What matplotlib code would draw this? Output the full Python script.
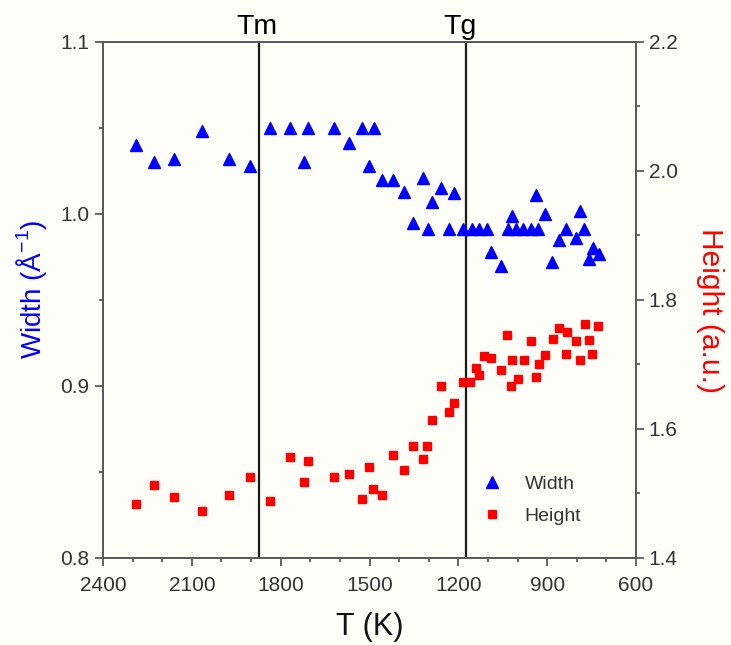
import matplotlib
matplotlib.use("Agg")
import matplotlib.pyplot as plt
from matplotlib.ticker import MultipleLocator

# ---- data ----
width_T = [2290, 2227, 2159, 2067, 1976, 1903, 1836, 1770, 1708, 1720, 1621, 1568,
           1525, 1485, 1501, 1458, 1421, 1385, 1352, 1318, 1304, 1288, 1259, 1231,
           1215, 1183, 1155, 1129, 1104, 1090, 1056, 1031, 1018, 1005, 981, 956,
           930, 939, 907, 883, 860, 836, 804, 789, 775, 759, 744, 725]
width_W = [1.040, 1.030, 1.032, 1.048, 1.032, 1.028, 1.050, 1.050, 1.050, 1.030, 1.050, 1.041,
           1.050, 1.050, 1.028, 1.020, 1.020, 1.013, 0.995, 1.021, 0.991, 1.007, 1.015, 0.991,
           1.012, 0.991, 0.991, 0.991, 0.991, 0.978, 0.970, 0.991, 0.999, 0.991, 0.991, 0.991,
           0.991, 1.011, 1.000, 0.972, 0.985, 0.991, 0.986, 1.002, 0.991, 0.974, 0.980, 0.977]

height_T = [2290, 2227, 2159, 2067, 1976, 1903, 1836, 1770, 1708, 1720, 1621, 1568,
            1501, 1525, 1487, 1458, 1422, 1385, 1352, 1305, 1318, 1288, 1259, 1232,
            1215, 1183, 1160, 1140, 1129, 1112, 1090, 1056, 1036, 1018, 1023, 999,
            978, 956, 939, 928, 907, 881, 860, 837, 832, 804, 789, 772, 759, 748, 727]
height_H = [1.484, 1.513, 1.495, 1.473, 1.497, 1.526, 1.488, 1.557, 1.550, 1.518, 1.526, 1.530,
            1.541, 1.492, 1.507, 1.498, 1.559, 1.537, 1.573, 1.573, 1.553, 1.614, 1.666, 1.627,
            1.641, 1.673, 1.673, 1.694, 1.684, 1.713, 1.710, 1.691, 1.745, 1.707, 1.667, 1.677,
            1.707, 1.736, 1.680, 1.700, 1.714, 1.740, 1.757, 1.716, 1.750, 1.736, 1.707, 1.763,
            1.738, 1.716, 1.759]

T_marks = [1873, 1174]
T_mark_labels = ["Tm", "Tg"]

x_ticks = [2400, 2100, 1800, 1500, 1200, 900, 600]
left_ticks = [0.8, 0.9, 1.0, 1.1]
right_ticks = [1.4, 1.6, 1.8, 2.0, 2.2]

# ---- style ----
plt.rcParams['font.family'] = ['Liberation Sans', 'DejaVu Sans']
plt.rcParams['mathtext.fontset'] = 'custom'
plt.rcParams['mathtext.rm'] = 'Liberation Sans'
spine_c = '#5a5a5a'
text_c = '#333333'
bg = '#fefef8'

fig = plt.figure(figsize=(7.31, 6.45), dpi=100, facecolor=bg)
ax = fig.add_axes([0.1409, 0.1349, 0.7292, 0.8])
ax.set_facecolor(bg)
ax2 = ax.twinx()

ax.set_xlim(2400, 600)
ax.set_ylim(0.8, 1.1)
ax2.set_ylim(1.4, 2.2)

for a in (ax, ax2):
    for s in a.spines.values():
        s.set_color(spine_c)
        s.set_linewidth(1.3)

ax.set_xticks(x_ticks)
ax.xaxis.set_minor_locator(MultipleLocator(100))
ax.set_yticks(left_ticks)
ax.set_yticklabels([f"{v:.1f}" for v in left_ticks])
ax.yaxis.set_minor_locator(MultipleLocator(0.05))
ax2.set_yticks(right_ticks)
ax2.set_yticklabels([f"{v:.1f}" for v in right_ticks])
ax2.yaxis.set_minor_locator(MultipleLocator(0.1))

ax.tick_params(axis='x', which='major', direction='out', length=6, width=1.3, pad=7,
               color=spine_c, labelcolor=text_c, labelsize=15)
ax.tick_params(axis='y', which='major', direction='out', length=6, width=1.3, pad=4,
               color=spine_c, labelcolor=text_c, labelsize=15)
ax.tick_params(axis='both', which='minor', direction='out', length=3, width=1.3,
               color=spine_c)
ax2.tick_params(axis='y', which='major', direction='out', length=6, width=1.3, pad=3,
                color=spine_c, labelcolor=text_c, labelsize=15)
ax2.tick_params(axis='y', which='minor', direction='out', length=3, width=1.3,
                color=spine_c)

offsets = [-1.5, -4.5]
for t, lab, dx in zip(T_marks, T_mark_labels, offsets):
    ax.axvline(t, color='#1a1a1a', lw=1.6, zorder=1)
    ax.annotate(lab, xy=(t, 1.1), xytext=(dx, 5.5), textcoords='offset points',
                ha='center', va='baseline', fontsize=20.5, color='black',
                annotation_clip=False)

hw, = ax.plot(width_T, width_W, linestyle='none', marker='^', ms=8,
              color='#0000ff', mec='#0000ff', label='Width', zorder=3)
hh, = ax2.plot(height_T, height_H, linestyle='none', marker='s', ms=6,
               color='#ff0000', mec='#ff0000', label='Height', zorder=3)

ax.set_xlabel("T (K)", fontsize=22, color='#111111')
ax.xaxis.set_label_coords(0.5, -0.105)
ax.set_ylabel("Width (Å$^{\\mathregular{-1}}$)", fontsize=20, color='#0000ff')
ax.yaxis.set_label_coords(-0.102, 0.52)
ax2.set_ylabel("Height (a.u.)", fontsize=21.5, color='#ff0000', rotation=270)
ax2.yaxis.set_label_coords(1.165, 0.48)

leg = ax.legend(handles=[hw, hh], loc='lower left', bbox_to_anchor=(0.678, 0.03),
                frameon=False, fontsize=14, handletextpad=1.2, labelspacing=0.75,
                handlelength=1.0)
for t in leg.get_texts():
    t.set_color(text_c)

fig.savefig("out.png", dpi=100, facecolor=bg)
